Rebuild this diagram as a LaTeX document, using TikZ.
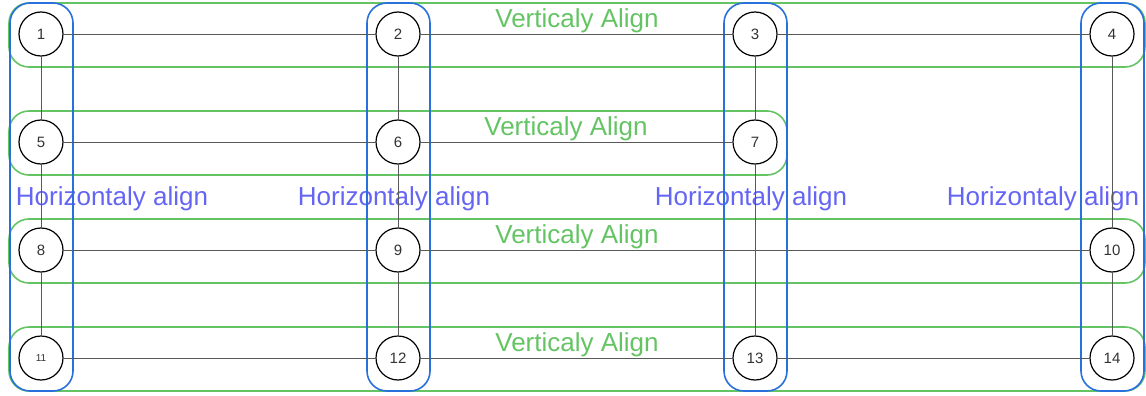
\documentclass[tikz,border=0pt]{standalone}
\usepackage{fontspec}
\setmainfont{Liberation Sans}
\begin{document}
\begin{tikzpicture}[x=1pt,y=-1pt,
  gbox/.style={draw=colg, line width=1.6pt, rounded corners=20pt},
  bbox/.style={draw=colbb, line width=1.6pt, rounded corners=20pt},
  nd/.style={circle, draw=black, line width=1.2pt, fill=white, minimum size=44pt, inner sep=0pt, font=\fontsize{15}{17}\selectfont, text=black!80},
  ed/.style={draw=black!65, line width=0.9pt},
  vlab/.style={text=colg, font=\fontsize{26}{28}\selectfont, inner sep=0pt},
  hlab/.style={text=colh, font=\fontsize{26}{28}\selectfont, inner sep=0pt}]
\definecolor{colg}{RGB}{100,196,100}
\definecolor{colbb}{RGB}{40,112,220}
\definecolor{colh}{RGB}{100,100,245}
\useasboundingbox (0,0) rectangle (1146,396);
% labels
\node[hlab] (h1) at (112,199) {Horizontaly align};
\node[hlab] (h2) at (394,199) {Horizontaly align};
\node[hlab] (h3) at (751,199) {Horizontaly align};
\node[hlab] (h4) at (1043,199) {Horizontaly align};
\node[vlab] (v1) at (577,21) {Verticaly Align};
\node[vlab] (v2) at (566,129) {Verticaly Align};
\node[vlab] (v3) at (577,237) {Verticaly Align};
\node[vlab] (v4) at (577,345) {Verticaly Align};
% green boxes
\draw[gbox] (9,3) rectangle (1145,67);
\draw[gbox] (9,111) rectangle (787,175);
\draw[gbox] (9,219) rectangle (1145,283);
\draw[gbox] (9,327) rectangle (1145,391);
% blue boxes
\draw[bbox] (10,3) rectangle (73,391);
\draw[bbox] (367,3) rectangle (430,391);
\draw[bbox] (724,3) rectangle (787,391);
\draw[bbox] (1081,3) rectangle (1144,391);
% nodes
\node[nd] (n1) at (41,34) {1};
\node[nd] (n2) at (398,34) {2};
\node[nd] (n3) at (755,34) {3};
\node[nd] (n4) at (1112,34) {4};
\node[nd] (n5) at (41,142) {5};
\node[nd] (n6) at (398,142) {6};
\node[nd] (n7) at (755,142) {7};
\node[nd] (n8) at (41,250) {8};
\node[nd] (n9) at (398,250) {9};
\node[nd] (n10) at (1112,250) {10};
\node[nd, font=\fontsize{10}{12}\selectfont] (n11) at (41,358) {11};
\node[nd] (n12) at (398,358) {12};
\node[nd] (n13) at (755,358) {13};
\node[nd] (n14) at (1112,358) {14};
% edges
\draw[ed] (n1) -- (n2); \draw[ed] (n2) -- (n3); \draw[ed] (n3) -- (n4);
\draw[ed] (n5) -- (n6); \draw[ed] (n6) -- (n7);
\draw[ed] (n8) -- (n9); \draw[ed] (n9) -- (n10);
\draw[ed] (n11) -- (n12); \draw[ed] (n12) -- (n13); \draw[ed] (n13) -- (n14);
\draw[ed] (n1) -- (n5); \draw[ed] (n5) -- (n8); \draw[ed] (n8) -- (n11);
\draw[ed] (n2) -- (n6); \draw[ed] (n6) -- (n9); \draw[ed] (n9) -- (n12);
\draw[ed] (n3) -- (n7); \draw[ed] (n7) -- (n13);
\draw[ed] (n4) -- (n10); \draw[ed] (n10) -- (n14);
\end{tikzpicture}
\end{document}
